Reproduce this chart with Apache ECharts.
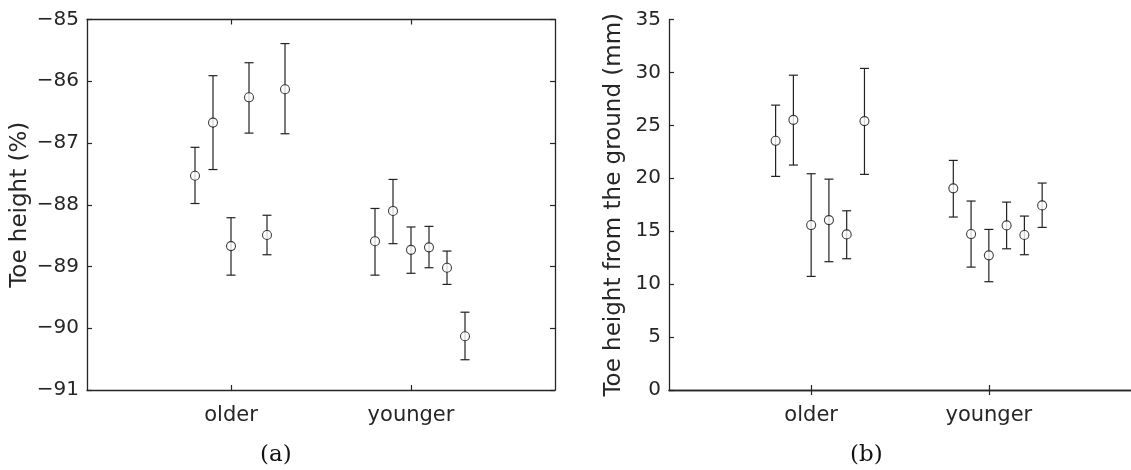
<!DOCTYPE html>
<html>
<head>
<meta charset="utf-8">
<script src="https://cdn.jsdelivr.net/npm/echarts@6/dist/echarts.min.js"></script>
<style>html,body{margin:0;padding:0;background:#fff}#c{width:1131px;height:470px}</style>
</head>
<body>
<div id="c"></div>
<script>
// ---- data ----
const categories = ['older', 'younger'];
const categoryPos = [1, 2];
const subjectOffsets = [-0.2, -0.1, 0, 0.1, 0.2, 0.3];

// panel (a): Toe height (%)
const aOlderMean  = [-87.53, -86.67, -88.67, -86.26, -88.49, -86.13];
const aOlderHi    = [-87.07, -85.91, -88.21, -85.70, -88.17, -85.39];
const aOlderLo    = [-87.98, -87.43, -89.14, -86.84, -88.81, -86.85];
const aYoungMean  = [-88.59, -88.10, -88.73, -88.69, -89.02, -90.13];
const aYoungHi    = [-88.06, -87.59, -88.36, -88.35, -88.75, -89.74];
const aYoungLo    = [-89.14, -88.63, -89.11, -89.02, -89.29, -90.51];

// panel (b): Toe height from the ground (mm)
const bOlderMean  = [23.54, 25.52, 15.58, 16.05, 14.70, 25.40];
const bOlderHi    = [26.91, 29.74, 20.43, 19.92, 16.93, 30.38];
const bOlderLo    = [20.18, 21.25, 10.73, 12.12, 12.40, 20.37];
const bYoungMean  = [19.05, 14.73, 12.72, 15.55, 14.64, 17.44];
const bYoungHi    = [21.69, 17.85, 15.17, 17.75, 16.43, 19.55];
const bYoungLo    = [16.34, 11.61, 10.23, 13.34, 12.78, 15.36];

const aYTicks = {min: -91, max: -85, interval: 1};
const bYTicks = {min: 0, max: 35, interval: 5};
const xRange = {min: 0.2, max: 2.8};

// ---- build ----
function points(catIdx, means) {
  return means.map((m, i) => [categoryPos[catIdx] + subjectOffsets[i], m]);
}
function bars(catIdx, lo, hi) {
  return lo.map((l, i) => [categoryPos[catIdx] + subjectOffsets[i], l, hi[i]]);
}
const axisColor = '#262626';
const font = "'DejaVu Sans', sans-serif";

function errRender(params, api) {
  const x = api.value(0);
  const p1 = api.coord([x, api.value(1)]);
  const p2 = api.coord([x, api.value(2)]);
  const cap = 4.5;
  const st = {stroke: '#222', lineWidth: 1.2};
  return {
    type: 'group',
    children: [
      {type: 'line', shape: {x1: p1[0], y1: p1[1], x2: p2[0], y2: p2[1]}, style: st},
      {type: 'line', shape: {x1: p1[0] - cap, y1: p1[1], x2: p1[0] + cap, y2: p1[1]}, style: st},
      {type: 'line', shape: {x1: p2[0] - cap, y1: p2[1], x2: p2[0] + cap, y2: p2[1]}, style: st}
    ]
  };
}

function xAxes(gridIndex) {
  const base = {
    type: 'value', gridIndex, min: xRange.min, max: xRange.max,
    axisLine: {show: true, lineStyle: {color: axisColor, width: 1.3}},
    axisTick: {show: true, inside: true, length: 5, customValues: categoryPos, lineStyle: {color: axisColor, width: 1.2}},
    splitLine: {show: false}
  };
  return [
    Object.assign({}, base, {
      position: 'bottom',
      axisLabel: {show: true, customValues: categoryPos, margin: 15, color: axisColor, fontSize: 21, fontFamily: font,
        formatter: v => categories[categoryPos.indexOf(Math.round(v))] || ''}
    }),
    Object.assign({}, base, {position: 'top', axisLabel: {show: false}})
  ];
}
function yAxes(gridIndex, ticks, name, gap, rightVisible) {
  const base = {
    type: 'value', gridIndex, min: ticks.min, max: ticks.max, interval: ticks.interval,
    axisLine: {show: true, lineStyle: {color: axisColor, width: 1.3}},
    axisTick: {show: true, inside: true, length: 5, lineStyle: {color: axisColor, width: 1.2}},
    splitLine: {show: false}
  };
  return [
    Object.assign({}, base, {
      position: 'left',
      name, nameLocation: 'middle', nameGap: gap,
      nameTextStyle: {color: axisColor, fontSize: 23, fontFamily: font},
      axisLabel: {show: true, margin: 8, color: axisColor, fontSize: 20, fontFamily: font,
        formatter: v => String(v).replace('-', '\u2212')}
    }),
    Object.assign({}, base, {position: 'right', axisLabel: {show: false},
      axisLine: Object.assign({}, base.axisLine, {show: rightVisible}),
      axisTick: Object.assign({}, base.axisTick, {show: rightVisible})})
  ];
}

const series = [];
function addPanel(g, groups) {
  groups.forEach(([catIdx, mean, lo, hi]) => {
    series.push({
      type: 'custom', xAxisIndex: g * 2, yAxisIndex: g * 2, renderItem: errRender,
      data: bars(catIdx, lo, hi), silent: true, z: 2
    });
    series.push({
      type: 'scatter', xAxisIndex: g * 2, yAxisIndex: g * 2, data: points(catIdx, mean),
      symbol: 'circle', symbolSize: 9,
      itemStyle: {color: '#fff', borderColor: '#111', borderWidth: 1.1}, z: 3, silent: true
    });
  });
}
addPanel(0, [[0, aOlderMean, aOlderLo, aOlderHi], [1, aYoungMean, aYoungLo, aYoungHi]]);
addPanel(1, [[0, bOlderMean, bOlderLo, bOlderHi], [1, bYoungMean, bYoungLo, bYoungHi]]);

const chart = echarts.init(document.getElementById('c'), null, {renderer: 'canvas'});
chart.setOption({
  animation: false,
  backgroundColor: '#fff',
  grid: [
    {left: 87, top: 19.5, width: 468, height: 370.5},
    {left: 669, top: 19.5, width: 468, height: 370.5}
  ],
  xAxis: [...xAxes(0), ...xAxes(1)],
  yAxis: [...yAxes(0, aYTicks, 'Toe height (%)', 55, true), ...yAxes(1, bYTicks, 'Toe height from the ground (mm)', 43, false)],
  series,
  graphic: [
    {type: 'text', left: 260, top: 444, style: {text: '(a)', font: "23px 'DejaVu Serif', serif", fill: '#111'}},
    {type: 'text', left: 850, top: 444, style: {text: '(b)', font: "23px 'DejaVu Serif', serif", fill: '#111'}}
  ]
});
</script>
</body>
</html>
